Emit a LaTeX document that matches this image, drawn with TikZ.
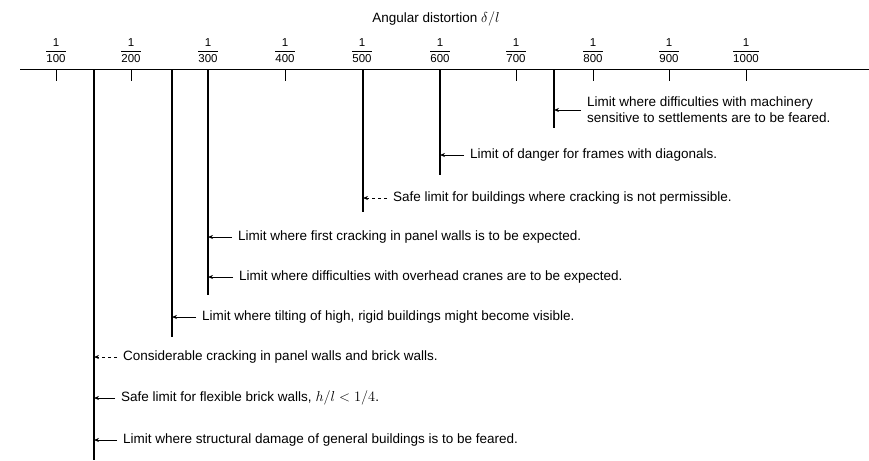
\documentclass[tikz,border=0pt]{standalone}
\usepackage{amsmath}
\usepackage{fontspec}
\setmainfont{Liberation Sans}
\usetikzlibrary{arrows.meta}

\tikzset{
  note/.style={right,inner sep=0pt,align=left,font=\fontsize{13.5}{16}\selectfont},
  lim/.style={line width=1.1pt},
  ptr/.style={-{Stealth[length=5pt,width=4pt]},line width=0.7pt},
}

\begin{document}
\begin{tikzpicture}[x=1pt,y=-1pt]
\useasboundingbox (0,0) rectangle (869,460);
% scale of angular distortion
\node[font=\fontsize{13.5}{16}\selectfont] (title) at (436,19) {Angular distortion $\delta/l$};
\draw[line width=1pt] (20,69) coordinate (axl) -- (869,69) coordinate (axr);
\foreach \d/\x in {100/56,200/131,300/208,400/285,500/362,600/440,700/516,800/593,900/669,1000/746}
{
\draw[line width=0.9pt] (\x,69)--(\x,81);
\node[above,inner sep=1pt,font=\fontsize{11.5}{13}\selectfont] (f\d) at (\x,64)
  {$\dfrac{\textnormal{1}}{\textnormal{\d}}$};
}
% limits
\foreach \n/\x/\y in {a/94/460,b/172/337,c/208/295,d/363/212,e/440/175,f/554/128}
\draw[lim] (\x,69) coordinate (\n top) -- (\x,\y) coordinate (\n bot);

\node[note] (nf) at (587,110) {Limit where difficulties with machinery\\sensitive to settlements are to be feared.};
\node[note] (ne) at (470,155) {Limit of danger for frames with diagonals.};
\node[note] (nd) at (393,198) {Safe limit for buildings where cracking is not permissible.};
\node[note] (nc1) at (238,237) {Limit where first cracking in panel walls is to be expected.};
\node[note] (nc2) at (239,277) {Limit where difficulties with overhead cranes are to be expected.};
\node[note] (nb) at (202,317) {Limit where tilting of high, rigid buildings might become visible.};
\node[note] (na1) at (123,357) {Considerable cracking in panel walls and brick walls.};
\node[note] (na2) at (121,398) {Safe limit for flexible brick walls, $h/l<1/4$.};
\node[note] (na3) at (123,440) {Limit where structural damage of general buildings is to be feared.};

\draw[ptr] ([xshift=-6pt]nf.west) -- (nf.west -| ftop);
\draw[ptr] ([xshift=-6pt]ne.west) -- (ne.west -| etop);
\draw[ptr,dashed] ([xshift=-6pt]nd.west) -- (nd.west -| dtop);
\draw[ptr] ([xshift=-6pt]nc1.west) -- (nc1.west -| ctop);
\draw[ptr] ([xshift=-6pt]nc2.west) -- (nc2.west -| ctop);
\draw[ptr] ([xshift=-6pt]nb.west) -- (nb.west -| btop);
\draw[ptr,dashed] ([xshift=-6pt]na1.west) -- (na1.west -| atop);
\draw[ptr] ([xshift=-6pt]na2.west) -- (na2.west -| atop);
\draw[ptr] ([xshift=-6pt]na3.west) -- (na3.west -| atop);
\end{tikzpicture}
\end{document}
